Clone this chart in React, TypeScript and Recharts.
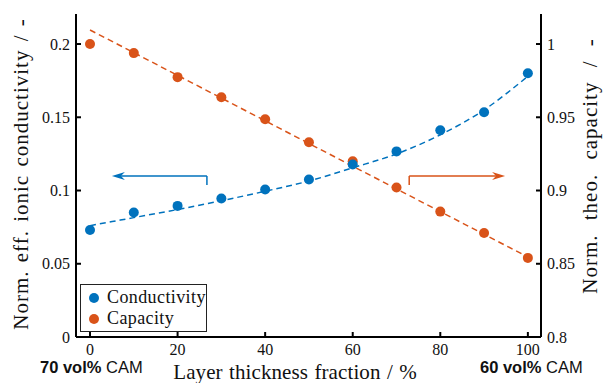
import {
  ComposedChart,
  Line,
  Scatter,
  XAxis,
  YAxis,
  ReferenceLine,
  Legend
} from 'recharts';

const fractions = [0, 10, 20, 30, 40, 50, 60, 70, 80, 90, 100];
const conductivity = [0.073, 0.085, 0.0895, 0.0945, 0.1007, 0.1075, 0.1178, 0.1267, 0.1411, 0.1534, 0.18];
const capacity = [1.0, 0.9938, 0.9774, 0.9637, 0.9486, 0.9329, 0.92, 0.902, 0.8856, 0.871, 0.854];
const conductivityFit = [0.076, 0.0815, 0.087, 0.093, 0.0995, 0.1065, 0.1155, 0.125, 0.138, 0.155, 0.178];
const capacityFit = [1.0096, 0.9941, 0.9786, 0.9631, 0.9476, 0.9321, 0.9166, 0.9011, 0.8856, 0.8701, 0.8546];

const xTicks = [0, 20, 40, 60, 80, 100];
const leftTicks = [0, 0.05, 0.1, 0.15, 0.2];
const rightTicks = [0.8, 0.85, 0.9, 0.95, 1];

// arrow annotations (data coords)
const leftArrow = { from: 26.7, to: 5, y: 0.1099, foot: 0.1038 };
const rightArrow = { from: 72.9, to: 94.8, y: 0.9099, foot: 0.9038 };

const blue = '#0072BD';
const orange = '#D95319';
const serif = '"Liberation Serif", "Times New Roman", serif';
const sans = '"Liberation Sans", Arial, sans-serif';

const toPoints = (ys: number[]) => fractions.map((x, i) => ({ x, y: ys[i] }));
const condPoints = toPoints(conductivity);
const capPoints = toPoints(capacity);
const condFit = toPoints(conductivityFit);
const capFit = toPoints(capacityFit);

const TICK = 5;
const GAP = 6;
const axisStyle = { stroke: '#000', strokeWidth: 2 };

const BottomTick = (p: any) => (
  <g>
    <line x1={p.x} x2={p.x} y1={p.y - GAP} y2={p.y - GAP - TICK} stroke="#000" strokeWidth={2} />
    <text x={p.x} y={p.y + 12} textAnchor="middle" fontFamily={serif} fontSize={16} fill="#111">
      {p.payload.value}
    </text>
  </g>
);

const TopTick = (p: any) => (
  <line x1={p.x} x2={p.x} y1={p.y} y2={p.y + TICK} stroke="#000" strokeWidth={2} />
);

const LeftTick = (p: any) => (
  <g>
    <line x1={p.x + GAP} x2={p.x + GAP + TICK} y1={p.y} y2={p.y} stroke="#000" strokeWidth={2} />
    <text x={p.x} y={p.y} dy="0.35em" textAnchor="end" fontFamily={serif} fontSize={16} fill="#111">
      {p.payload.value}
    </text>
  </g>
);

const RightTick = (p: any) => (
  <g>
    <line x1={p.x - GAP} x2={p.x - GAP - TICK} y1={p.y} y2={p.y} stroke="#000" strokeWidth={2} />
    <text x={p.x} y={p.y} dy="0.35em" textAnchor="start" fontFamily={serif} fontSize={16} fill="#111">
      {p.payload.value}
    </text>
  </g>
);

const Arrow = (p: any) => {
  const dir = Math.sign(p.x2 - p.x1);
  const { x2, y2 } = p;
  return (
    <g>
      <line x1={p.x1} y1={p.y1} x2={x2 - dir * 8} y2={y2} stroke={p.stroke} strokeWidth={1.5} />
      <polygon
        points={`${x2},${y2} ${x2 - dir * 13},${y2 - 4} ${x2 - dir * 9},${y2} ${x2 - dir * 13},${y2 + 4}`}
        fill={p.stroke}
      />
    </g>
  );
};

const Dot = (color: string) => (p: any) => <circle cx={p.cx} cy={p.cy} r={5} fill={color} />;

const legendItems = [
  { name: 'Conductivity', color: blue },
  { name: 'Capacity', color: orange }
];

const LegendBox = () => (
  <div
    style={{
      border: '1.5px solid #222',
      background: '#fff',
      width: 127,
      height: 48,
      boxSizing: 'border-box',
      padding: '2px 0 0 8px',
      fontFamily: serif,
      fontSize: 18,
      letterSpacing: 0.4,
      color: '#111'
    }}
  >
    {legendItems.map((it) => (
      <div key={it.name} style={{ display: 'flex', alignItems: 'center', height: 21 }}>
        <span
          style={{ width: 10, height: 10, borderRadius: 5, background: it.color, marginRight: 8, display: 'inline-block' }}
        />
        {it.name}
      </div>
    ))}
  </div>
);

const sideLabel = (text: string, x: number, cy: number, wordSpacing: number) => () => (
  <text
    x={x}
    y={cy}
    transform={`rotate(-90, ${x}, ${cy})`}
    textAnchor="middle"
    fontFamily={serif}
    fontSize={21}
    letterSpacing={1}
    wordSpacing={wordSpacing}
    fill="#111"
  >
    {text}
  </text>
);

export default function App() {
  return (
    <div style={{ position: 'absolute', left: 0, top: 0, width: 603, height: 383, background: '#fff' }}>
      <ComposedChart width={603} height={383} margin={{ top: 14, right: 0, bottom: 0, left: 0 }}>
        <XAxis
          xAxisId="top"
          orientation="top"
          type="number"
          dataKey="x"
          domain={[-3.2, 103]}
          ticks={xTicks}
          height={0}
          tickSize={0}
          tickMargin={0}
          tickLine={false}
          tick={TopTick}
          axisLine={axisStyle}
          allowDataOverflow
        />
        <XAxis
          type="number"
          dataKey="x"
          domain={[-3.2, 103]}
          ticks={xTicks}
          height={46}
          tickSize={0}
          tickMargin={GAP}
          tickLine={false}
          tick={BottomTick}
          axisLine={axisStyle}
          allowDataOverflow
        />
        <YAxis
          yAxisId="left"
          dataKey="y"
          type="number"
          domain={[0, 0.2205]}
          ticks={leftTicks}
          width={76}
          tickSize={0}
          tickMargin={GAP}
          tickLine={false}
          tick={LeftTick}
          axisLine={axisStyle}
          allowDataOverflow
          label={{ content: sideLabel('Norm. eff. ionic conductivity / -', 28, 174, 2) }}
        />
        <YAxis
          yAxisId="right"
          orientation="right"
          dataKey="y"
          type="number"
          domain={[0.8, 1.0205]}
          ticks={rightTicks}
          width={62}
          tickSize={0}
          tickMargin={GAP}
          tickLine={false}
          tick={RightTick}
          axisLine={axisStyle}
          allowDataOverflow
          label={{ content: sideLabel('Norm. theo. capacity / -', 597, 166, 8) }}
        />
        <Line
          yAxisId="right"
          data={capFit}
          dataKey="y"
          type="linear"
          stroke={orange}
          strokeWidth={1.5}
          strokeDasharray="6 4"
          dot={false}
          activeDot={false}
          legendType="none"
          isAnimationActive={false}
        />
        <Line
          yAxisId="left"
          data={condFit}
          dataKey="y"
          type="monotone"
          stroke={blue}
          strokeWidth={1.5}
          strokeDasharray="6 4"
          dot={false}
          activeDot={false}
          legendType="none"
          isAnimationActive={false}
        />
        <Scatter yAxisId="right" name="Capacity" data={capPoints} dataKey="y" fill={orange} shape={Dot(orange)} isAnimationActive={false} />
        <Scatter yAxisId="left" name="Conductivity" data={condPoints} dataKey="y" fill={blue} shape={Dot(blue)} isAnimationActive={false} />
        <ReferenceLine yAxisId="left" segment={[{ x: leftArrow.from, y: leftArrow.foot }, { x: leftArrow.from, y: leftArrow.y }]} stroke={blue} strokeWidth={1.5} />
        <ReferenceLine yAxisId="left" segment={[{ x: leftArrow.from, y: leftArrow.y }, { x: leftArrow.to, y: leftArrow.y }]} stroke={blue} shape={Arrow} />
        <ReferenceLine yAxisId="right" segment={[{ x: rightArrow.from, y: rightArrow.foot }, { x: rightArrow.from, y: rightArrow.y }]} stroke={orange} strokeWidth={1.5} />
        <ReferenceLine yAxisId="right" segment={[{ x: rightArrow.from, y: rightArrow.y }, { x: rightArrow.to, y: rightArrow.y }]} stroke={orange} shape={Arrow} />
        <Legend
          layout="vertical"
          align="center"
          verticalAlign="middle"
          content={LegendBox}
          wrapperStyle={{ position: 'absolute', left: 80, top: 284, width: 127 }}
        />
      </ComposedChart>
      <div style={{ position: 'absolute', left: 40, top: 358, fontFamily: sans, fontSize: 16.5, color: '#111', whiteSpace: 'nowrap' }}>
        <b>70 vol%</b> CAM
      </div>
      <div style={{ position: 'absolute', left: 480, top: 358, fontFamily: sans, fontSize: 16.5, color: '#111', whiteSpace: 'nowrap' }}>
        <b>60 vol%</b> CAM
      </div>
      <div
        style={{
          position: 'absolute',
          left: 0,
          width: 590,
          top: 360,
          textAlign: 'center',
          fontFamily: serif,
          fontSize: 21,
          letterSpacing: 0.1,
          wordSpacing: 1,
          color: '#111',
          whiteSpace: 'nowrap'
        }}
      >
        Layer thickness fraction / %
      </div>
    </div>
  );
}
